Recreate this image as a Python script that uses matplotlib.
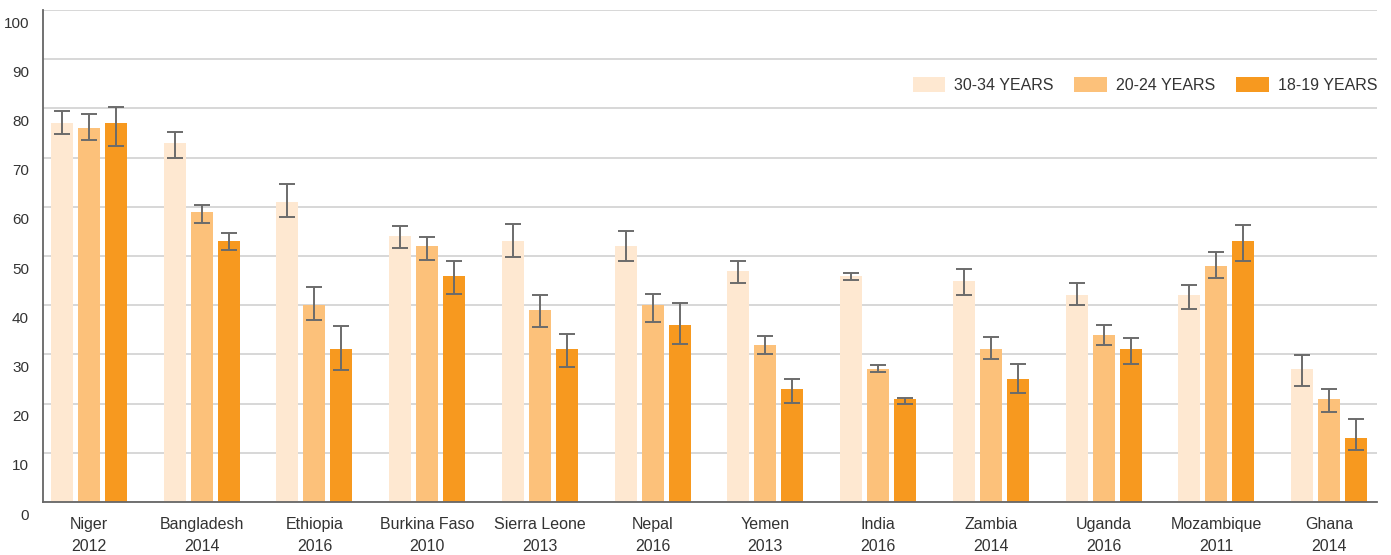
import matplotlib.pyplot as plt
import numpy as np
from matplotlib.transforms import ScaledTranslation

plt.rcParams['font.family'] = ['Liberation Sans', 'DejaVu Sans']

# datos
paises = ['Niger\n2012', 'Bangladesh\n2014', 'Ethiopia\n2016', 'Burkina Faso\n2010',
          'Sierra Leone\n2013', 'Nepal\n2016', 'Yemen\n2013', 'India\n2016',
          'Zambia\n2014', 'Uganda\n2016', 'Mozambique\n2011', 'Ghana\n2014']
grupos = ['30-34 YEARS', '20-24 YEARS', '18-19 YEARS']

v_30_34 = [77, 73, 61, 54, 53, 52, 47, 46, 45, 42, 42, 27]
v_20_24 = [76, 59, 40, 52, 39, 40, 32, 27, 31, 34, 48, 21]
v_18_19 = [77, 53, 31, 46, 31, 36, 23, 21, 25, 31, 53, 13]

# intervalos (inferior, superior)
lo_30_34 = [74.7, 70.0, 57.9, 51.6, 49.8, 49.0, 44.5, 45.1, 42.1, 40.0, 39.2, 23.5]
hi_30_34 = [79.4, 75.3, 64.6, 56.1, 56.6, 55.1, 49.0, 46.6, 47.4, 44.6, 44.2, 29.9]
lo_20_24 = [73.6, 56.7, 36.9, 49.2, 35.6, 36.6, 30.0, 26.5, 29.1, 31.9, 45.6, 18.2]
hi_20_24 = [78.8, 60.4, 43.6, 53.8, 42.1, 42.3, 33.7, 27.8, 33.6, 36.0, 50.8, 23.0]
lo_18_19 = [72.4, 51.2, 26.9, 42.2, 27.4, 32.2, 20.2, 20.0, 22.2, 28.1, 49.0, 10.6]
hi_18_19 = [80.3, 54.7, 35.8, 49.0, 34.2, 40.4, 24.9, 21.2, 28.0, 33.4, 56.3, 16.9]

colores = ['#FEE8D1', '#FCC17A', '#F7991F']

fig, ax = plt.subplots(figsize=(13.91, 5.55), dpi=100)
fig.subplots_adjust(left=43/1391, right=1377/1391, bottom=1-502/555, top=1-10/555)

x = np.arange(len(paises))
w = 0.195
d = 0.2395
series = [(v_30_34, lo_30_34, hi_30_34), (v_20_24, lo_20_24, hi_20_24), (v_18_19, lo_18_19, hi_18_19)]
for k, (v, lo, hi) in enumerate(series):
    v = np.array(v); lo = np.array(lo); hi = np.array(hi)
    pos = x + (k-1)*d
    ax.bar(pos, v, w, color=colores[k], label=grupos[k], zorder=2)
    ax.errorbar(pos, v, yerr=[v-lo, hi-v], fmt='none', ecolor='#6b6b6b',
                elinewidth=1.4, capsize=6, capthick=1.4, zorder=3)

ax.set_xlim(-0.408, 11.425)
ax.set_ylim(0, 100)
ax.set_yticks(np.arange(0, 101, 10))
ax.yaxis.grid(True, color='#d4d4d4', lw=1.3, zorder=0)
ax.set_axisbelow(True)
ax.tick_params(axis='y', length=0, pad=10, labelsize=11, labelcolor='#333333')
ax.tick_params(axis='x', length=0, pad=11, labelsize=11.5, labelcolor='#333333')
ax.set_xticks(x)
ax.set_xticklabels(paises, linespacing=1.6)

for lab in ax.get_yticklabels():
    lab.set_transform(lab.get_transform() + ScaledTranslation(0, -12/100, fig.dpi_scale_trans))

for s in ['top', 'right']:
    ax.spines[s].set_visible(False)
ax.spines['left'].set_color('#666666')
ax.spines['bottom'].set_color('#666666')
ax.spines['left'].set_linewidth(1.3)
ax.spines['bottom'].set_linewidth(1.3)

ax.legend(ncol=3, frameon=False, loc='center right',
          bbox_to_anchor=(1377/1391, 1-85/555), bbox_transform=fig.transFigure,
          fontsize=11.5, handlelength=2.05, handleheight=1.05, handletextpad=0.55,
          columnspacing=1.3, borderpad=0, borderaxespad=0, labelcolor='#333333')

plt.savefig('out.png', dpi=100)
